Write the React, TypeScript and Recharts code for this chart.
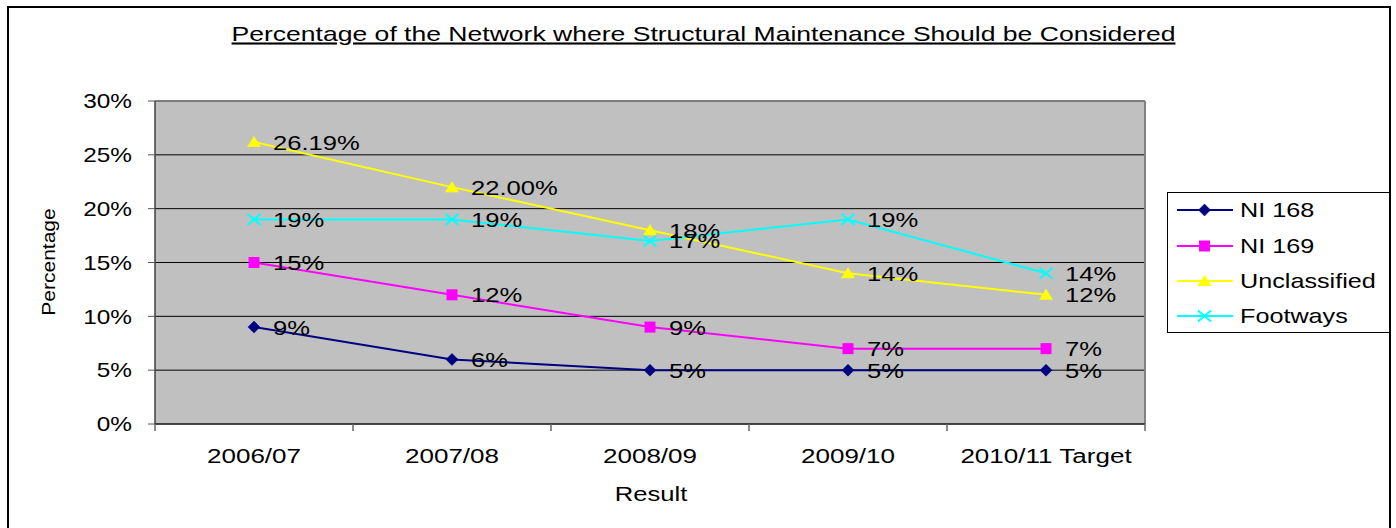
import React from 'react';
import {
  LineChart,
  Line,
  XAxis,
  YAxis,
  CartesianGrid,
  LabelList,
  Label,
  Legend,
  ReferenceLine,
} from 'recharts';

const title = 'Percentage of the Network where Structural Maintenance Should be Considered';
const categories = ['2006/07', '2007/08', '2008/09', '2009/10', '2010/11 Target'];
const ni168 = [9, 6, 5, 5, 5];
const ni169 = [15, 12, 9, 7, 7];
const unclassified = [26.19, 22.0, 18, 14, 12];
const footways = [19, 19, 17, 19, 14];
const unclassifiedLabels = ['26.19%', '22.00%', '18%', '14%', '12%'];
const yTicks = [0, 5, 10, 15, 20, 25, 30];
const xTicks = [-0.5, 0, 0.5, 1, 1.5, 2, 2.5, 3, 3.5, 4, 4.5];
const seriesKeys = ['ni168', 'ni169', 'unclassified', 'footways'];
const seriesNames = ['NI 168', 'NI 169', 'Unclassified', 'Footways'];

const data = categories.map((c, i) => ({
  i,
  cat: c,
  ni168: ni168[i],
  ni169: ni169[i],
  unclassified: unclassified[i],
  footways: footways[i],
}));

const FONT = '"Liberation Sans", Arial, Helvetica, sans-serif';
const S = 1.22;

const COLORS: Record<string, string> = {
  ni168: '#000080',
  ni169: '#FF00FF',
  unclassified: '#FFFF00',
  footways: '#00FFFF',
};

function SText(props: { x: number; y: number; anchor?: string; size?: number; children: any; sx?: number }) {
  const { x, y, anchor = 'start', size = 21, children, sx = S } = props;
  return (
    <text
      transform={`translate(${x},${y}) scale(${sx},1)`}
      textAnchor={anchor}
      fontSize={size}
      fontFamily={FONT}
      fill="#000"
    >
      {children}
    </text>
  );
}

function Marker({ kind, cx, cy }: { kind: string; cx: number; cy: number }) {
  const c = COLORS[kind];
  if (kind === 'ni168') {
    return <polygon points={`${cx},${cy - 6} ${cx + 6},${cy} ${cx},${cy + 6} ${cx - 6},${cy}`} fill={c} stroke={c} strokeWidth={0.5} />;
  }
  if (kind === 'ni169') {
    return <rect x={cx - 5.5} y={cy - 5.5} width={11} height={11} fill={c} />;
  }
  if (kind === 'unclassified') {
    return <polygon points={`${cx},${cy - 6} ${cx + 7},${cy + 5} ${cx - 7},${cy + 5}`} fill={c} />;
  }
  return (
    <g stroke={c} strokeWidth={2}>
      <line x1={cx - 6.5} y1={cy - 5.5} x2={cx + 6.5} y2={cy + 5.5} />
      <line x1={cx - 6.5} y1={cy + 5.5} x2={cx + 6.5} y2={cy - 5.5} />
    </g>
  );
}

const makeDot = (kind: string) => (p: any) => (
  <Marker key={`${kind}-${p.index}`} kind={kind} cx={p.cx} cy={p.cy} />
);

const makeLabel = (kind: string) => (p: any) => {
  const x = p.x ?? p.viewBox?.x;
  const y = p.y ?? p.viewBox?.y;
  const txt = kind === 'unclassified' ? unclassifiedLabels[p.index] : `${p.value}%`;
  return (
    <g key={`lbl-${kind}-${p.index}`}>
      <SText x={x + 19} y={y + 7.5} size={21}>
        {txt}
      </SText>
    </g>
  );
};

const YTick = (p: any) => {
  const { x, y, payload } = p;
  return (
    <g>
      <line x1={x - 7} y1={y} x2={x} y2={y} stroke="#555" strokeWidth={1} />
      <SText x={x - 23} y={y + 7.2} anchor="end" size={20}>
        {`${payload.value}%`}
      </SText>
    </g>
  );
};

const XTick = (p: any) => {
  const { x, y, payload } = p;
  const v = payload.value;
  if (Math.abs(v - Math.round(v)) > 0.01) {
    return <line x1={x} y1={y} x2={x} y2={y + 7} stroke="#666" strokeWidth={1.5} />;
  }
  return (
    <SText x={x} y={y + 38.5} anchor="middle" size={21} sx={1.24}>
      {categories[Math.round(v)]}
    </SText>
  );
};

const renderLegend = () => {
  const rows = [18, 54, 89, 124];
  return (
    <svg width={224} height={142} style={{ display: 'block' }}>
      <rect x={0.5} y={0.5} width={222} height={140} fill="#fff" stroke="#000" strokeWidth={1} />
      {seriesKeys.map((k, idx) => {
        const cy = rows[idx];
        return (
          <g key={k}>
            <line x1={10} y1={cy} x2={66} y2={cy} stroke={COLORS[k]} strokeWidth={2} />
            <Marker kind={k} cx={37.5} cy={cy} />
            <SText x={73} y={cy + 7.2} size={20} sx={1.26}>
              {seriesNames[idx]}
            </SText>
          </g>
        );
      })}
    </svg>
  );
};

export default function App() {
  return (
    <div style={{ position: 'absolute', left: 0, top: 0, width: 1396, height: 528, background: '#fff', overflow: 'hidden' }}>
      <div
        style={{
          position: 'absolute',
          left: 7,
          top: 6,
          width: 1384,
          height: 600,
          border: '2.5px solid #000',
          boxSizing: 'border-box',
        }}
      />
      <div style={{ position: 'absolute', left: 0, top: 0 }}>
        <LineChart
          width={1396}
          height={528}
          data={data}
          margin={{ top: 101, right: 251, bottom: 24, left: 0 }}
        >
          <CartesianGrid vertical={false} fill="#C0C0C0" fillOpacity={1} stroke="#000" strokeWidth={1} />
          <XAxis
            dataKey="i"
            type="number"
            domain={[-0.5, 4.5]}
            ticks={xTicks}
            interval={0}
            allowDataOverflow
            tickLine={false}
            tickSize={0}
            tickMargin={0}
            axisLine={{ stroke: '#333', strokeWidth: 1.5 }}
            tick={XTick}
            height={80}
          >
            <Label
              content={(p: any) => {
                const vb = p.viewBox || {};
                return (
                  <SText x={vb.x + vb.width / 2 + 1} y={vb.y + 77} anchor="middle" size={21}>
                    Result
                  </SText>
                );
              }}
            />
          </XAxis>
          <YAxis
            type="number"
            domain={[0, 30]}
            ticks={yTicks}
            interval={0}
            width={155}
            tickLine={false}
            tickSize={0}
            tickMargin={0}
            axisLine={{ stroke: '#404040', strokeWidth: 1.5 }}
            tick={YTick}
          >
            <Label
              content={() => (
                <text
                  transform={`translate(55,262) rotate(-90) scale(1,0.85)`}
                  textAnchor="middle"
                  fontSize={21}
                  fontFamily={FONT}
                  fill="#000"
                >
                  Percentage
                </text>
              )}
            />
          </YAxis>
          <ReferenceLine y={30} stroke="#808080" strokeWidth={1.5} />
          <ReferenceLine x={4.5} stroke="#808080" strokeWidth={2} />
          <Legend
            layout="vertical"
            align="center"
            verticalAlign="middle"
            content={renderLegend}
            wrapperStyle={{ left: 1167, top: 192, width: 224, height: 142 }}
          />
          <Line
            type="linear"
            dataKey="ni168"
            name="NI 168"
            stroke={COLORS.ni168}
            strokeWidth={2}
            dot={makeDot('ni168')}
            isAnimationActive={false}
          >
            <LabelList dataKey="ni168" content={makeLabel('ni168')} />
          </Line>
          <Line
            type="linear"
            dataKey="ni169"
            name="NI 169"
            stroke={COLORS.ni169}
            strokeWidth={2}
            dot={makeDot('ni169')}
            isAnimationActive={false}
          >
            <LabelList dataKey="ni169" content={makeLabel('ni169')} />
          </Line>
          <Line
            type="linear"
            dataKey="unclassified"
            name="Unclassified"
            stroke={COLORS.unclassified}
            strokeWidth={2}
            dot={makeDot('unclassified')}
            isAnimationActive={false}
          >
            <LabelList dataKey="unclassified" content={makeLabel('unclassified')} />
          </Line>
          <Line
            type="linear"
            dataKey="footways"
            name="Footways"
            stroke={COLORS.footways}
            strokeWidth={2}
            dot={makeDot('footways')}
            isAnimationActive={false}
          >
            <LabelList dataKey="footways" content={makeLabel('footways')} />
          </Line>
        </LineChart>
      </div>
      <svg width={1396} height={60} style={{ position: 'absolute', left: 0, top: 0 }}>
        <text
          transform={`translate(703.5,40.7) scale(1.264,1)`}
          textAnchor="middle"
          fontSize={21}
          fontFamily={FONT}
          fill="#000"
          style={{ textDecoration: 'underline' }}
        >
          {title}
        </text>
      </svg>
    </div>
  );
}
